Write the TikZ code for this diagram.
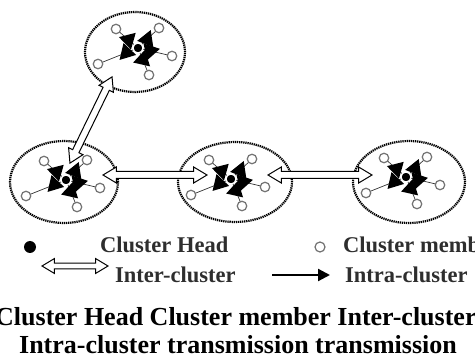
\documentclass[tikz,border=0pt]{standalone}
\usepackage{fontspec}
\setmainfont{Liberation Serif}
\usetikzlibrary{arrows.meta,shapes.arrows,shapes.geometric,calc}
\tikzset{
  clusterring/.style={ellipse, draw, line width=2.2pt, dash pattern=on 1.3pt off 0.8pt, inner sep=0pt},
  headdot/.style={circle, fill=black, draw=white, line width=1.2pt, inner sep=0pt, minimum size=10pt},
  memberdot/.style={circle, draw=black!55, fill=white, line width=1.2pt, inner sep=0pt, minimum size=9.5pt},
  linkline/.style={draw, black!80, line width=0.7pt},
  hollowarrow/.style={double arrow, draw, fill=white, line width=1pt, inner sep=3pt,
    double arrow head extend=4.5pt, double arrow tip angle=62, minimum height=#1},
  legendtext/.style={font=\bfseries\fontsize{22.5}{25}\selectfont, text=black!82, anchor=base west, inner sep=0pt},
  captiontext/.style={font=\bfseries\fontsize{26}{30}\selectfont, anchor=base, inner sep=0pt},
  intraarrow/.style={line width=2.2pt, -{Triangle[length=12pt,width=12pt]}}
}
% #1 name, #2 head position, #3 ring centre, #4 ring width, #5 ring height
\newcommand\clusterdraw[5]{%
  \node[clusterring, minimum width=#4, minimum height=#5] (#1r) at #3 {};
  \coordinate (#1h) at #2;
  \coordinate (#1a) at ($(#1h)+(-22,-19)$);
  \coordinate (#1b) at ($(#1h)+(21,-20)$);
  \coordinate (#1c) at ($(#1h)+(34,8)$);
  \coordinate (#1d) at ($(#1h)+(11,27)$);
  \coordinate (#1e) at ($(#1h)+(-40,16)$);
  \foreach \m in {a,b,c,d,e}{
    \draw[linkline] (#1h) -- (#1\m);
  }
  \foreach \m in {a,b,c,d,e}{
    \path let \p1=($(#1\m)-(#1h)$), \n1={atan2(\y1,\x1)},
              \p2=($(#1h)+(\n1:12.5pt)$) in
      [fill=black] ($(\p2)+(\n1+25:10pt)$) -- ($(\p2)+(\n1+145:10pt)$) -- ($(\p2)+(\n1+265:10pt)$) -- cycle;
  }
  \node[headdot] (#1head) at (#1h) {};
  \foreach \m in {a,b,c,d,e}{
    \node[memberdot] (#1m\m) at (#1\m) {};
  }
}
\begin{document}
\begin{tikzpicture}[x=1pt,y=-1pt]
\clip (0,0) rectangle (475,361);
\fill[white] (0,0) rectangle (475,361);

\clusterdraw{c1}{(138,48)}{(135,52)}{100pt}{80pt}
\clusterdraw{c2}{(66,180)}{(64,182)}{108pt}{82pt}
\clusterdraw{c3}{(231,179)}{(235,182)}{114pt}{80pt}
\clusterdraw{c4}{(406,177)}{(409,182)}{112pt}{82pt}

% inter-cluster links
\node[hollowarrow=96pt, rotate=64] (l12) at (91,120) {};
\node[hollowarrow=104pt] (l23) at (155,175) {};
\node[hollowarrow=104pt] (l34) at (320,175) {};

% legend
\node[circle, fill=black, inner sep=0pt, minimum size=12pt] (lgh) at (30,247) {};
\node[legendtext] (lght) at (100,253) {Cluster Head};
\node[memberdot, minimum size=10pt] (lgm) at (320,247) {};
\node[legendtext] (lgmt) at (343,253) {Cluster member};
\node[hollowarrow=66pt, inner sep=2.4pt, double arrow head extend=4.5pt] (lgi) at (75,266) {};
\node[legendtext] (lgit) at (115,283) {Inter-cluster};
\coordinate (lgaa) at (272,275);
\coordinate (lgab) at (330,275);
\draw[intraarrow] (lgaa) -- (lgab);
\node[legendtext] (lgat) at (345,283) {Intra-cluster};

% caption
\node[captiontext, anchor=base west] (cap1) at (-5,325) {Cluster Head Cluster member Inter-cluster};
\node[captiontext] (cap2) at (238,353) {Intra-cluster transmission transmission};
\end{tikzpicture}
\end{document}
